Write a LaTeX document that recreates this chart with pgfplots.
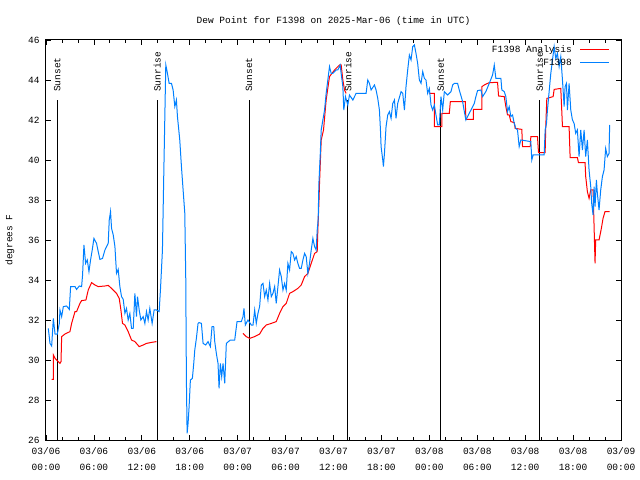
\documentclass[border=0pt]{standalone}
\usepackage{fontspec}
\setmainfont{Liberation Mono}
\usepackage{pgfplots}
\pgfplotsset{compat=1.18}
\definecolor{obsblue}{RGB}{0,128,255}
\definecolor{anared}{RGB}{255,0,0}
\begin{document}
\fontsize{9.5bp}{16bp}\selectfont
\begin{tikzpicture}
\begin{axis}[
  at={(0,0)}, anchor=south west,
  scale only axis, width=575bp, height=400bp,
  xmin=0, xmax=72, ymin=26, ymax=46,
  xtick={0,6,...,72},
  xticklabels={{03/06\\00:00},{03/06\\06:00},{03/06\\12:00},{03/06\\18:00},{03/07\\00:00},{03/07\\06:00},{03/07\\12:00},{03/07\\18:00},{03/08\\00:00},{03/08\\06:00},{03/08\\12:00},{03/08\\18:00},{03/09\\00:00}},
  xticklabel style={align=center, yshift=-4bp},
  minor x tick num=2,
  ytick={26,28,...,46},
  yticklabel style={xshift=-3bp},
  /pgf/number format/assume math mode=true,
  major tick length=5bp, minor tick length=3bp,
  tick style={black, line width=0.8bp},
  axis line style={line width=1bp},
  title={Dew Point for F1398 on 2025-Mar-06 (time in UTC)},
  title style={at={(axis description cs:0.5,1)}, anchor=center, yshift=13bp},
  ylabel={degrees F},
  ylabel style={at={(axis description cs:-0.0626,0.5)}, anchor=center},
  unbounded coords=jump,
  legend plot pos=right,
  legend cell align=right,
  legend style={draw=none, fill=none, at={(axis description cs:1,1)}, anchor=north east, xshift=-11bp, yshift=-3bp, row sep=1.5bp, column sep=6bp, inner sep=0pt, font=\fontsize{9.5bp}{12bp}\selectfont},
  legend image code/.code={\draw (0bp,0bp) -- (29bp,0bp);},
]
% sunrise / sunset markers
\addplot[black, line width=1bp, forget plot] coordinates {(1.42,26) (1.42,43)};
\addplot[black, line width=1bp, forget plot] coordinates {(13.92,26) (13.92,43)};
\addplot[black, line width=1bp, forget plot] coordinates {(25.42,26) (25.42,43)};
\addplot[black, line width=1bp, forget plot] coordinates {(37.8,26) (37.8,43)};
\addplot[black, line width=1bp, forget plot] coordinates {(49.42,26) (49.42,43)};
\addplot[black, line width=1bp, forget plot] coordinates {(61.79,26) (61.79,43)};
\node[rotate=90, anchor=west, inner sep=0pt] at ([yshift=8bp]axis cs:1.42,43) {Sunset};
\node[rotate=90, anchor=west, inner sep=0pt] at ([yshift=8bp]axis cs:13.92,43) {Sunrise};
\node[rotate=90, anchor=west, inner sep=0pt] at ([yshift=8bp]axis cs:25.42,43) {Sunset};
\node[rotate=90, anchor=west, inner sep=0pt] at ([yshift=8bp]axis cs:37.8,43) {Sunrise};
\node[rotate=90, anchor=west, inner sep=0pt] at ([yshift=8bp]axis cs:49.42,43) {Sunset};
\node[rotate=90, anchor=west, inner sep=0pt] at ([yshift=8bp]axis cs:61.79,43) {Sunrise};

% analysis (red)
\addplot[anared, line width=1bp] coordinates {
(0.71,29.03) (0.92,29.03) (0.92,30.25) (1.13,30.08) (1.54,29.92) (1.75,29.83) (1.88,29.92)
(1.96,31.17) (2.38,31.3) (3.0,31.42) (3.21,31.83) (3.63,32.42) (3.83,32.42) (4.25,32.83)
(4.46,32.97) (5.0,33.0) (5.29,33.5) (5.71,33.87) (6.13,33.75) (6.54,33.67) (7.38,33.7)
(7.79,33.73) (8.21,33.58) (8.83,33.33) (9.17,33.08) (9.38,32.5) (9.58,31.83) (9.88,31.75)
(10.29,31.42) (10.71,31.0) (11.13,30.92) (11.67,30.67) (12.17,30.75) (12.58,30.83)
(13.21,30.88) (13.83,30.92)
(14,nan)
(24.67,31.33) (25.08,31.17) (25.5,31.08) (26.13,31.17) (26.75,31.3) (27.17,31.58)
(27.58,31.75) (28.21,31.83) (28.83,31.92) (29.25,32.33) (29.67,32.67) (30.08,32.83)
(30.5,33.33) (30.92,33.42) (31.54,33.58) (31.96,33.75) (32.38,34.17) (32.79,34.33)
(33.21,34.83) (33.63,35.33) (33.96,35.42) (34.04,36.5) (34.17,37.83) (34.25,38.83)
(34.46,41.0) (34.75,41.5) (35.08,43.0) (35.5,44.17) (36.13,44.5) (36.75,44.75)
(36.96,44.75) (37.17,44.0) (37.38,43.5) (37.58,43.33)
(40,nan)
(48.0,43.33) (48.63,43.33) (48.63,41.67) (49.58,41.67) (49.58,42.33) (50.5,42.33)
(50.63,42.92) (52.5,42.92) (52.58,42.03) (53.5,42.03) (53.5,42.53) (54.58,42.53)
(54.58,43.67) (54.88,43.75) (55.5,43.87) (56.54,43.88) (56.67,43.2) (57.38,43.17)
(57.58,42.67) (57.79,42.25) (58.0,42.25) (58.21,41.92) (58.63,41.87) (58.75,41.58)
(59.58,41.53) (59.67,40.67) (60.63,40.67) (60.71,41.17) (61.54,41.17) (61.67,40.37)
(62.5,40.37) (62.58,41.67) (62.71,43.08) (63.5,43.17) (63.63,43.53) (64.46,43.58)
(64.67,41.67) (65.5,41.67) (65.63,40.12) (66.54,40.12) (66.67,39.87) (67.5,39.87)
(67.58,39.17) (67.79,38.42) (68.0,38.08) (68.21,38.5) (68.5,38.5) (68.63,36.67)
(68.75,34.83) (68.83,36.0) (69.25,36.0) (69.54,36.58) (69.75,37.08) (70.0,37.42)
(70.58,37.42)
};
\addlegendentry{F1398 Analysis}

% observations (blue)
\addplot[obsblue, line width=1bp] coordinates {
(0.29,31.58) (0.5,30.83) (0.71,30.7) (0.92,32.08) (1.13,31.3) (1.42,31.3) (1.67,31.83)
(1.75,32.5) (1.96,32.17) (2.17,32.67) (2.58,32.7) (2.92,32.53) (3.08,33.67) (3.63,33.67)
(3.83,33.53) (4.17,33.7) (4.46,33.67) (4.58,34.25) (4.75,35.75) (4.96,34.83) (5.17,35.0)
(5.38,34.42) (5.58,35.0) (5.79,35.5) (6.0,36.08) (6.33,35.83) (6.54,35.42) (6.75,35.03)
(7.08,35.08) (7.38,35.5) (7.79,35.83) (7.92,37.0) (8.08,37.42) (8.21,36.58) (8.42,36.25)
(8.63,35.67) (8.83,34.33) (9.04,34.53) (9.25,33.67) (9.46,33.17) (9.67,33.03) (9.88,32.33)
(10.08,32.58) (10.29,32.0) (10.5,32.33) (10.71,31.58) (10.92,31.58) (11.13,33.33)
(11.33,32.17) (11.46,33.17) (11.67,32.5) (11.88,32.0) (12.17,32.17) (12.38,31.83)
(12.58,32.42) (12.79,32.0) (13.0,32.58) (13.29,31.83) (13.54,32.5) (13.83,32.5)
(14.17,32.42) (14.33,33.5) (14.58,35.5) (14.75,39.33) (14.88,42.17) (15.0,44.75)
(15.21,44.33) (15.42,43.83) (15.71,43.83) (15.92,43.5) (16.13,42.67) (16.33,43.0)
(16.46,42.17) (16.75,41.0) (16.96,39.67) (17.17,38.5) (17.38,37.33) (17.5,34.08)
(17.58,29.0) (17.67,26.33) (17.79,26.83) (17.92,27.67) (18.08,29.0) (18.33,29.08)
(18.5,29.83) (18.63,30.5) (18.83,31.08) (19.04,31.83) (19.17,31.87) (19.46,31.83)
(19.67,30.83) (20.0,30.75) (20.29,30.92) (20.58,30.67) (20.79,31.67) (21.0,31.67)
(21.13,30.92) (21.33,30.33) (21.54,29.83) (21.67,28.58) (21.83,29.83) (22.0,29.17)
(22.17,29.83) (22.38,28.83) (22.58,30.83) (23.08,31.0) (23.63,31.0) (23.92,31.92)
(24.46,31.92) (24.67,32.17) (24.79,32.58) (24.96,31.75) (25.29,32.0) (25.71,31.75)
(25.92,31.75) (26.13,32.5) (26.33,31.83) (26.54,32.33) (26.75,32.67) (26.96,33.75)
(27.17,33.83) (27.38,33.17) (27.58,33.5) (27.79,33.0) (28.0,33.83) (28.21,33.17)
(28.42,33.33) (28.63,33.67) (28.83,32.83) (29.04,33.67) (29.25,34.5) (29.46,34.17)
(29.67,33.5) (29.88,33.83) (30.08,33.5) (30.29,34.83) (30.5,34.5) (30.71,35.42)
(30.92,35.33) (31.13,35.0) (31.33,35.17) (31.54,34.83) (31.75,34.58) (31.96,34.58)
(32.17,35.0) (32.38,35.33) (32.58,35.17) (32.79,34.33) (33.0,34.83) (33.21,35.5)
(33.42,36.08) (33.63,35.67) (33.83,35.5) (33.96,36.5) (34.08,37.0) (34.17,38.83)
(34.33,40.17) (34.46,41.5) (34.67,42.0) (34.88,42.5) (35.08,43.33) (35.29,44.0)
(35.5,44.67) (35.71,44.33) (35.92,44.33) (36.33,44.5) (36.54,44.5) (36.83,44.75)
(36.96,44.33) (37.17,43.67) (37.29,42.5) (37.5,43.17) (37.79,42.75) (38.0,43.25)
(38.42,43.0) (38.83,43.33) (40.08,43.33) (40.29,44.0) (40.5,43.83) (40.71,43.5)
(41.13,43.75) (41.33,43.5) (41.54,43.08) (41.75,42.5) (41.88,41.5) (41.96,40.67)
(42.17,40.0) (42.25,39.67) (42.38,40.33) (42.58,41.67) (42.79,42.25) (43.0,42.42)
(43.21,42.08) (43.42,42.83) (43.63,43.0) (43.83,42.08) (44.04,42.83) (44.46,43.42)
(44.67,43.33) (44.88,42.5) (45.08,43.67) (45.29,44.5) (45.5,45.25) (45.71,45.0)
(45.92,45.67) (46.13,45.75) (46.33,45.33) (46.54,44.83) (46.75,44.0) (46.96,43.83)
(47.17,44.42) (47.38,44.08) (47.58,44.0) (47.79,43.33) (48.0,43.58) (48.21,42.75)
(48.42,42.5) (48.63,42.75) (48.83,42.25) (49.04,41.75) (49.25,41.75) (49.46,43.17)
(49.67,42.5) (49.88,43.42) (50.29,43.25) (50.71,43.42) (50.92,43.75) (51.13,43.83)
(51.54,43.83) (51.75,43.5) (52.17,42.92) (52.38,42.42) (52.58,42.0) (52.79,42.17)
(53.21,42.5) (53.63,42.83) (53.83,43.17) (54.04,43.47) (54.46,43.5) (54.67,43.17)
(55.08,43.42) (55.5,43.83) (55.92,44.25) (56.13,44.75) (56.33,44.08) (56.96,44.08)
(57.08,43.5) (57.38,43.42) (57.58,43.17) (57.79,42.42) (58.0,42.67) (58.21,42.17)
(58.42,42.25) (58.63,41.83) (58.83,41.58) (59.04,41.5) (59.25,40.67) (59.46,41.0)
(60.71,40.92) (60.83,40.0) (61.0,40.25) (62.38,40.25) (62.5,41.5) (62.67,41.83)
(62.79,42.5) (63.0,43.42) (63.21,44.33) (63.42,45.0) (63.63,45.67) (63.83,45.08)
(64.04,45.33) (64.25,44.67) (64.46,45.17) (64.67,44.0) (64.88,42.67) (65.0,43.67)
(65.17,43.83) (65.29,42.5) (65.5,43.83) (65.71,42.5) (65.92,42.0) (66.13,41.83)
(66.33,41.33) (66.54,41.5) (66.75,40.17) (66.96,41.5) (67.17,40.5) (67.38,41.5)
(67.58,40.17) (67.79,41.0) (68.0,39.5) (68.21,38.67) (68.33,37.83) (68.5,37.25)
(68.63,38.67) (68.75,37.67) (68.92,39.0) (69.04,38.33) (69.25,37.5) (69.46,38.5)
(69.67,39.17) (69.88,39.5) (70.08,40.58) (70.29,40.17) (70.5,40.33) (70.58,41.75)
};
\addlegendentry{F1398}
\end{axis}
\pgfresetboundingbox
\path[use as bounding box] (-46bp,-40bp) rectangle (594bp,440bp);
\end{tikzpicture}
\end{document}
